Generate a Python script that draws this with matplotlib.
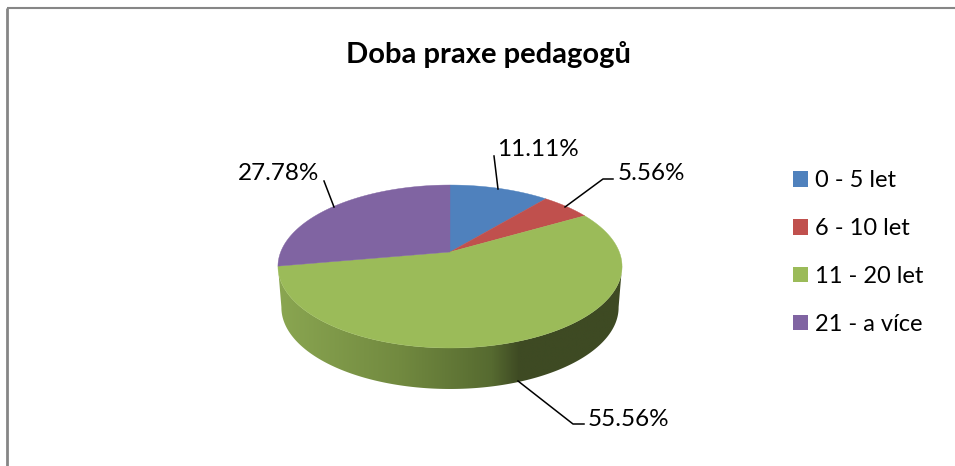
import numpy as np
import matplotlib
matplotlib.use('Agg')
import matplotlib.pyplot as plt
from matplotlib.colors import LinearSegmentedColormap
from matplotlib.patches import Patch, Polygon

plt.rcParams['font.family'] = ['Lato', 'DejaVu Sans']

title = 'Doba praxe pedagogů'
categories = ['0 - 5 let', '6 - 10 let', '11 - 20 let', '21 - a více']
values = [11.11, 5.56, 55.56, 27.78]
colors = ['#4f81bd', '#c0504d', '#9bbb59', '#8064a2']

# pixel layout of the tilted pie
cx, cy = 450, 252
bx, ay, k = 169.3, 78.9, 0.178
depth = 41


def project(a):
    # circle angle (clockwise from top) to the tilted disc, with perspective
    u, v = np.sin(a), np.cos(a)
    w = 1 + k * v
    return cx + bx * u / w, cy - ay * v / w


fig = plt.figure(figsize=(9.55, 4.66), dpi=100)
ax = fig.add_axes([0, 0, 1, 1])
ax.set_xlim(0, 955)
ax.set_ylim(466, 0)
ax.axis('off')

# chart frame, only top and left are in the picture
ax.plot([7, 955], [8, 8], color='#868686', lw=1.5, solid_capstyle='butt')
ax.plot([7, 7], [8, 466], color='#868686', lw=2.0, solid_capstyle='butt')

# side wall
t = np.linspace(np.radians(100), np.radians(260), 200)
rx, ry = project(t)
wall_x = np.concatenate([rx, cx + (rx - cx)[::-1] * 0.98])
wall_y = np.concatenate([ry, ry[::-1] + depth])
wall = Polygon(np.column_stack([wall_x, wall_y]), closed=True, fc='none', ec='none')
ax.add_patch(wall)
cmap = LinearSegmentedColormap.from_list('side', [
    (0.0, '#8aa651'), (0.35, '#728a40'), (0.62, '#566a30'),
    (0.70, '#3e4a23'), (1.0, '#3e4a23')])
grad = np.linspace(0, 1, 256).reshape(1, -1)
im = ax.imshow(grad, extent=[278, 622, 400, 200], cmap=cmap, aspect='auto', zorder=1)
im.set_clip_path(wall)
ax.set_xlim(0, 955)
ax.set_ylim(466, 0)

# top face
edges = np.radians(np.cumsum([0] + values) / sum(values) * 360)
for i in range(len(values)):
    a = np.linspace(edges[i], edges[i + 1], 120)
    x, y = project(a)
    ax.fill(np.r_[cx, x], np.r_[cy, y], color=colors[i], lw=0.3, zorder=2)

# data labels and leader lines
label_pos = [(538, 149), (651, 173), (279, 173), (628, 419)]
leaders = [
    ([494, 498], [156, 189]),
    ([613, 603, 565], [179, 179, 207]),
    ([518, 573, 584], [381, 424, 424]),
    ([324, 334], [181, 207]),
]
label_order = [0, 1, 3, 2]
positions = dict(zip(label_order, label_pos))
for i, v in enumerate(values):
    lx, ly = leaders[i]
    ax.plot(lx, ly, color='black', lw=1.1, zorder=3)
    ax.text(positions[i][0], positions[i][1], f'{v:.2f}%', fontsize=17.5,
            ha='center', va='center', color='black', zorder=4)

ax.text(488, 54, title, fontsize=21, fontweight='bold', ha='center', va='center')

handles = [Patch(fc=c, ec='none') for c in colors]
ax.legend(handles, categories, loc='upper left', bbox_to_anchor=(786 / 955, 1 - 163 / 466),
          frameon=False, fontsize=17, handlelength=0.64, handleheight=0.64,
          handletextpad=0.3, labelspacing=1.14, borderpad=0.3, borderaxespad=0)

fig.savefig('out.png', dpi=100)
